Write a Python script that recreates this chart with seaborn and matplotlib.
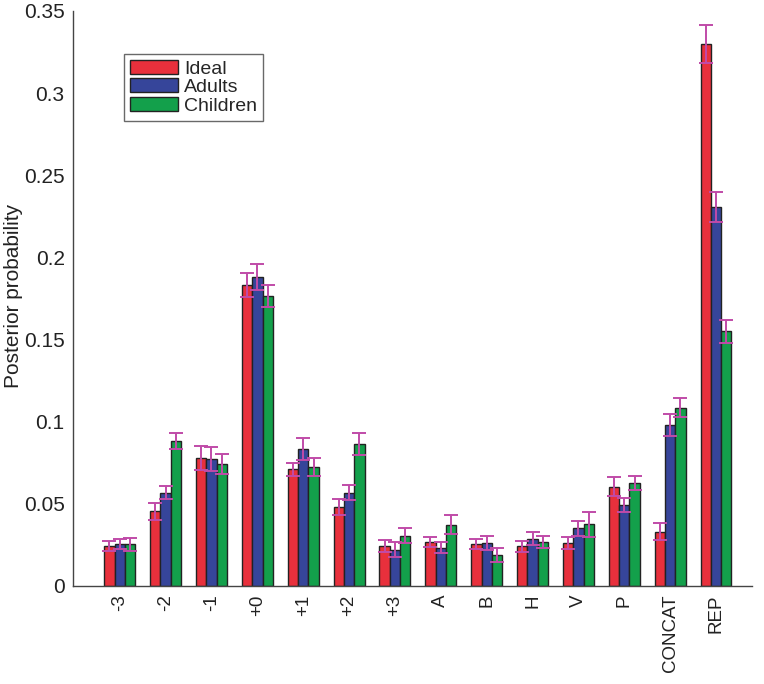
import numpy as np
import pandas as pd
import matplotlib
matplotlib.use("Agg")
import matplotlib.pyplot as plt
import seaborn as sns
from matplotlib.ticker import FuncFormatter

# -----------------------------
# Data
# -----------------------------
categories = ["-3", "-2", "-1", "+0", "+1", "+2", "+3", "A", "B", "H", "V", "P", "CONCAT", "REP"]
groups = ["Ideal", "Adults", "Children"]

ideal = [0.0243, 0.0454, 0.0778, 0.183, 0.0710, 0.0481, 0.0242, 0.0267, 0.0257, 0.0241, 0.0261, 0.0605, 0.0331, 0.330]
adults = [0.0253, 0.0568, 0.0774, 0.188, 0.0834, 0.0568, 0.0222, 0.0232, 0.0261, 0.0288, 0.0351, 0.0494, 0.0980, 0.2306]
children = [0.0253, 0.0883, 0.0743, 0.1765, 0.0725, 0.0866, 0.0307, 0.0373, 0.0188, 0.0267, 0.0375, 0.0628, 0.1086, 0.155]

ideal_err = [0.0030, 0.0053, 0.0073, 0.0073, 0.0040, 0.0050, 0.0038, 0.0032, 0.0032, 0.0035, 0.0038, 0.0060, 0.0052, 0.0117]
adults_err = [0.0030, 0.0040, 0.0073, 0.0079, 0.0068, 0.0046, 0.0044, 0.0033, 0.0043, 0.0038, 0.0047, 0.0043, 0.0068, 0.0093]
children_err = [0.0038, 0.0050, 0.0059, 0.0066, 0.0053, 0.0068, 0.0047, 0.0059, 0.0044, 0.0038, 0.0075, 0.0041, 0.0057, 0.0071]

colors = ["#E8303C", "#36459A", "#13A04B"]

df = pd.DataFrame({
    "category": categories * 3,
    "group": np.repeat(groups, len(categories)),
    "value": ideal + adults + children,
    "err": ideal_err + adults_err + children_err,
})

# -----------------------------
# Plot
# -----------------------------
sns.set_theme(style="white")
plt.rcParams["font.family"] = ["Liberation Sans", "DejaVu Sans"]

fig = plt.figure(figsize=(7.64, 6.84), dpi=100)
ax = fig.add_axes([0.0955, 0.1433, 0.8885, 0.8407])

sns.barplot(data=df, x="category", y="value", hue="group", order=categories,
            hue_order=groups, palette=colors, width=0.675, errorbar=None,
            edgecolor="#222222", linewidth=1.0, saturation=1, ax=ax)

# error bars on top of each bar
for cont, g in zip(ax.containers, groups):
    sub = df[df["group"] == g].set_index("category").loc[categories]
    xs = [p.get_x() + p.get_width() / 2 for p in cont.patches]
    ax.errorbar(xs, sub["value"].values, yerr=sub["err"].values, fmt="none",
                ecolor="#C04BA8", elinewidth=1.4, capsize=5, capthick=1.4, zorder=5)

ax.set_xlim(-1.02, 13.78)
ax.set_ylim(0, 0.35)
ax.set_yticks(np.arange(0, 0.351, 0.05))
ax.yaxis.set_major_formatter(FuncFormatter(lambda v, p: "%g" % round(v, 2)))
ax.set_xlabel("")
ax.set_ylabel("Posterior probability", fontsize=15, color="#222222")
ax.yaxis.set_label_coords(-0.074, 0.505)
ax.tick_params(axis="y", direction="in", length=5, width=1, color="#444444",
               labelsize=15, labelcolor="#222222", pad=6)
ax.tick_params(axis="x", length=0, labelsize=13.5, labelcolor="#222222", pad=6, rotation=90)

sns.despine(ax=ax)
for s in ["left", "bottom"]:
    ax.spines[s].set_color("#444444")
    ax.spines[s].set_linewidth(1.0)

leg = ax.legend(loc="upper left", bbox_to_anchor=(0.075, 0.925), fontsize=14,
                frameon=True, fancybox=False, edgecolor="#444444",
                handlelength=2.5, handleheight=0.7, handletextpad=0.3,
                labelspacing=0.05, borderpad=0.3, borderaxespad=0)
leg.get_frame().set_linewidth(1.0)

fig.savefig("out.png", dpi=100)
